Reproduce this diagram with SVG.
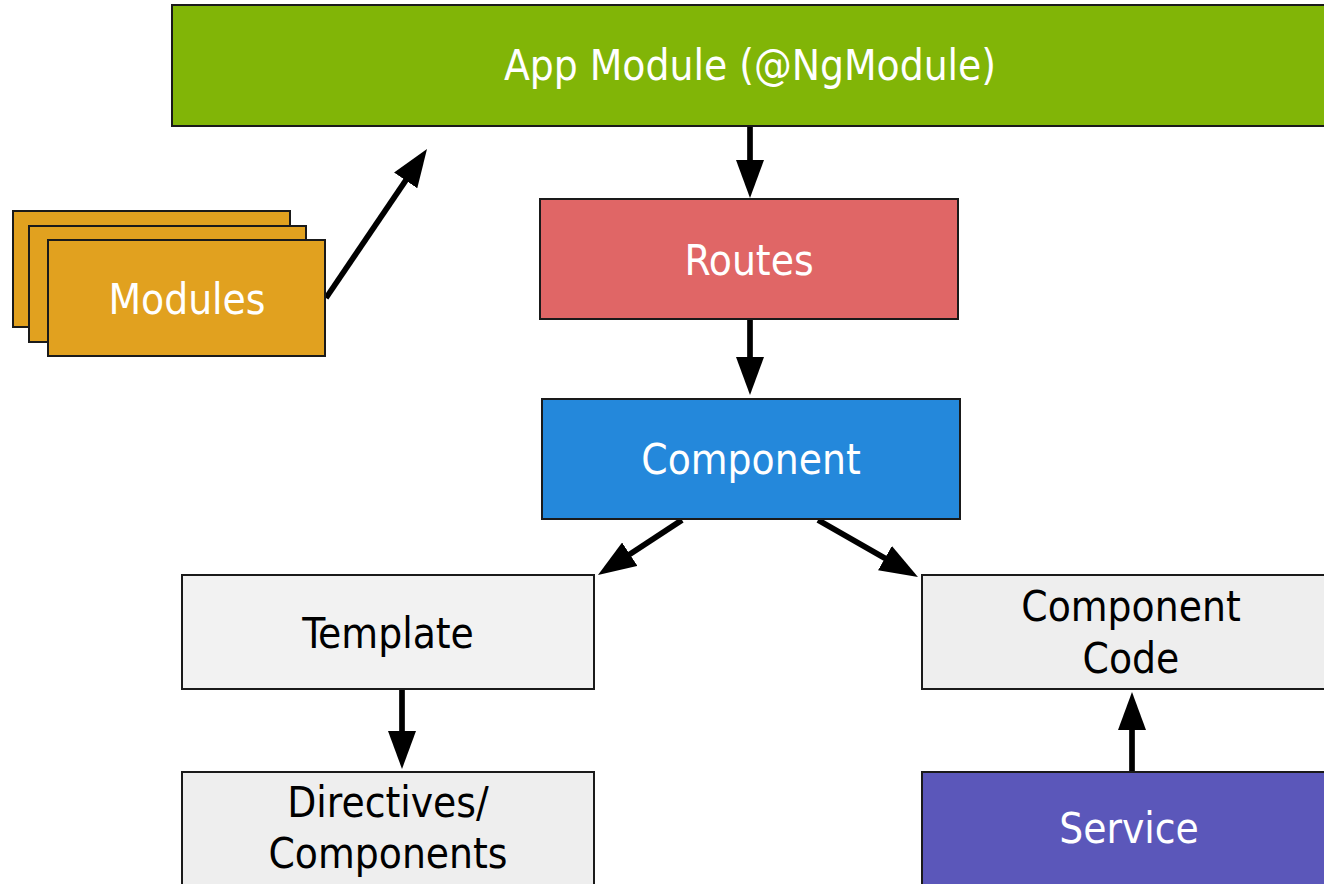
<svg xmlns="http://www.w3.org/2000/svg" width="1324" height="884" viewBox="0 0 1324 884">
<defs>
<style>
.box{stroke:#1a1a1a;stroke-width:2}
.lbl{font-family:"DejaVu Sans Condensed","DejaVu Sans",Verdana,sans-serif;font-size:42px;text-anchor:middle}
.w{fill:#ffffff}
.k{fill:#000000}
.edge{stroke:#000;stroke-width:5.7;fill:none;marker-end:url(#ah)}
</style>
<marker id="ah" markerUnits="userSpaceOnUse" viewBox="0 0 38 28" markerWidth="38" markerHeight="28" refX="2" refY="14" orient="auto">
<path d="M0,0 L38,14 L0,28 z" fill="#000"/>
</marker>
</defs>
<rect width="1324" height="884" fill="#ffffff"/>
<g id="connectors">
<line class="edge" x1="750" y1="127" x2="750" y2="162"/>
<line class="edge" x1="750" y1="320" x2="750" y2="359"/>
<line class="edge" x1="682" y1="520" x2="628.1" y2="555.3"/>
<line class="edge" x1="818" y1="520" x2="886.7" y2="559.2"/>
<line class="edge" x1="326" y1="298" x2="406.8" y2="178.8"/>
<line class="edge" x1="402" y1="690" x2="402" y2="733"/>
<line class="edge" x1="1132" y1="771" x2="1132" y2="728"/>
</g>
<g id="app-module">
<rect class="box" x="172" y="5" width="1170" height="121" fill="#81B507"/>
<text class="lbl w" x="750" y="80">App Module (@NgModule)</text>
</g>
<g id="modules">
<rect class="box" x="13" y="211" width="277" height="116" fill="#E1A11F"/>
<rect class="box" x="29" y="226" width="277" height="116" fill="#E1A11F"/>
<rect class="box" x="48" y="240" width="277" height="116" fill="#E1A11F"/>
<text class="lbl w" x="187" y="314">Modules</text>
</g>
<g id="routes">
<rect class="box" x="540" y="199" width="418" height="120" fill="#E06666"/>
<text class="lbl w" x="749" y="275">Routes</text>
</g>
<g id="component">
<rect class="box" x="542" y="399" width="418" height="120" fill="#2488DB"/>
<text class="lbl w" x="751" y="474">Component</text>
</g>
<g id="template">
<rect class="box" x="182" y="575" width="412" height="114" fill="#F2F2F2"/>
<text class="lbl k" x="388" y="648">Template</text>
</g>
<g id="directives">
<rect class="box" x="182" y="772" width="412" height="130" fill="#EEEEEE"/>
<text class="lbl k" x="388" y="817">Directives/</text>
<text class="lbl k" x="388" y="868">Components</text>
</g>
<g id="component-code">
<rect class="box" x="922" y="575" width="420" height="114" fill="#EEEEEE"/>
<text class="lbl k" x="1131" y="621">Component</text>
<text class="lbl k" x="1131" y="673">Code</text>
</g>
<g id="service">
<rect class="box" x="922" y="772" width="420" height="130" fill="#5B57BA"/>
<text class="lbl w" x="1129" y="843">Service</text>
</g>
</svg>
